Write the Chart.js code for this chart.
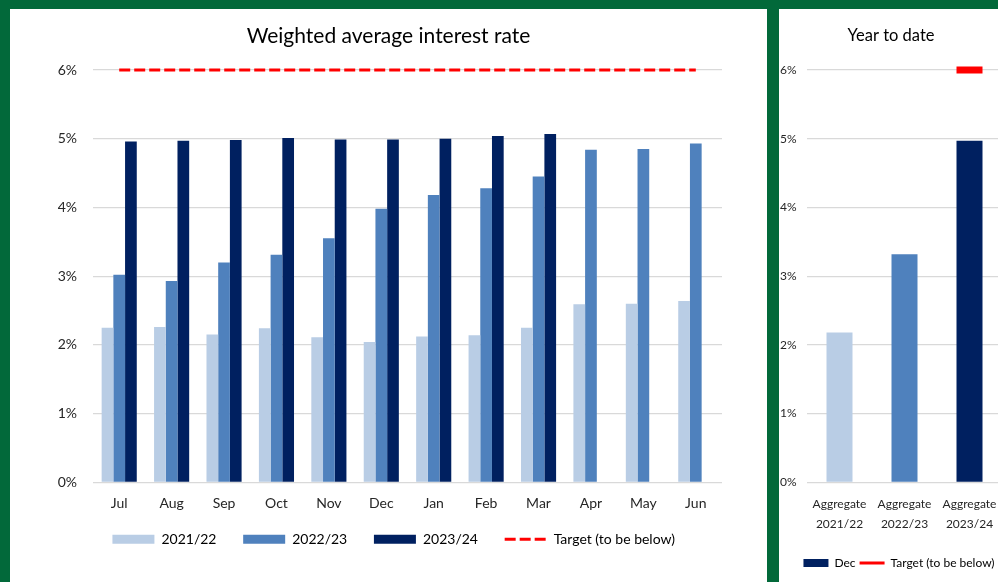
<!DOCTYPE html>
<html>
<head>
<meta charset="utf-8">
<script src="https://cdn.jsdelivr.net/npm/chart.js@4.4.1/dist/chart.umd.min.js"></script>
<style>
  html, body { margin: 0; padding: 0; }
  body { width: 998px; height: 582px; background: #02693a; position: relative; overflow: hidden; }
  .panel { position: absolute; top: 9px; height: 573px; background: #fff; }
  #main { left: 10px; width: 757px; }
  #ytd { left: 779px; width: 227px; }
</style>
</head>
<body>
<div class="panel" id="main"><canvas id="rateChart"></canvas></div>
<div class="panel" id="ytd"><canvas id="ytdChart"></canvas></div>
<script>
// monthly weighted average rate, % per financial year
const months = ['Jul', 'Aug', 'Sep', 'Oct', 'Nov', 'Dec', 'Jan', 'Feb', 'Mar', 'Apr', 'May', 'Jun'];
const rate2122 = [2.25, 2.26, 2.15, 2.24, 2.11, 2.04, 2.12, 2.14, 2.25, 2.59, 2.60, 2.64];
const rate2223 = [3.02, 2.93, 3.20, 3.31, 3.55, 3.98, 4.18, 4.28, 4.45, 4.84, 4.85, 4.93];
const rate2324 = [4.96, 4.97, 4.98, 5.01, 4.99, 4.99, 5.00, 5.04, 5.07, null, null, null];
const targetRate = [6, 6, 6, 6, 6, 6, 6, 6, 6, 6, 6, 6];
const yearLabels = ['2021/22', '2022/23', '2023/24'];

// year to date aggregates
const ytdCategories = [['Aggregate', '2021/22'], ['Aggregate', '2022/23'], ['Aggregate', '2023/24']];
const ytdRates = [2.18, 3.32, 4.97];
const ytdTarget = [null, null, 6];

const LIGHT = '#b9cde5';
const MID = '#4f81bd';
const NAVY = '#002060';
const RED = '#ff0000';
const GRID = '#d9d9d9';
const TEXT = '#262626';

// move title / legend after layout
const nudge = {
  id: 'nudge',
  afterLayout(chart, args, opts) {
    const lg = chart.legend, tb = chart.titleBlock;
    if (lg) {
      lg.left += opts.legendX || 0; lg.right += opts.legendX || 0;
      lg.top += opts.legendY || 0; lg.bottom += opts.legendY || 0;
    }
    if (tb && opts.titleX) { tb.left += opts.titleX; tb.right += opts.titleX; }
  }
};

const pct = v => v + '%';

// fixed axis sizes, no extra label padding on the sides
const fixHeight = h => s => { s.height = h; s.paddingLeft = 0; s.paddingRight = 0; };
const fixWidth = w => s => { s.width = w; };

new Chart(document.getElementById('rateChart'), {
  type: 'bar',
  data: {
    labels: months,
    datasets: [
      { label: yearLabels[0], data: rate2122, backgroundColor: LIGHT },
      { label: yearLabels[1], data: rate2223, backgroundColor: MID },
      { label: yearLabels[2], data: rate2324, backgroundColor: NAVY },
      {
        type: 'line', label: 'Target (to be below)', data: targetRate,
        borderColor: RED, borderWidth: 3, borderDash: [11, 4], pointRadius: 0, clip: false
      }
    ]
  },
  options: {
    responsive: true,
    maintainAspectRatio: false,
    animation: false,
    layout: { autoPadding: false, padding: { left: 0, right: 45, top: 0, bottom: 17 } },
    datasets: { bar: { categoryPercentage: 0.67, barPercentage: 1 } },
    plugins: {
      nudge: { titleX: 22.5, legendX: 27.7, legendY: -8.7 },
      tooltip: { enabled: false },
      title: {
        display: true,
        text: 'Weighted average interest rate',
        color: '#000',
        font: { family: 'Lato', size: 21, weight: 'normal' },
        padding: { top: 14.4, bottom: 21.4 }
      },
      legend: {
        position: 'bottom',
        labels: {
          usePointStyle: true,
          pointStyleWidth: 42,
          boxHeight: 9,
          padding: 26.7,
          color: TEXT,
          font: { family: 'Lato', size: 14 },
          generateLabels: chart => chart.data.datasets.map((ds, i) => ds.type === 'line'
            ? { text: ds.label, strokeStyle: ds.borderColor, fillStyle: 'rgba(0,0,0,0)', lineWidth: 3, lineDash: ds.borderDash, pointStyle: 'line', datasetIndex: i }
            : { text: ds.label, fillStyle: ds.backgroundColor, strokeStyle: ds.backgroundColor, lineWidth: 0, pointStyle: 'rect', datasetIndex: i })
        }
      }
    },
    scales: {
      x: {
        grid: { display: false, drawTicks: false },
        border: { display: false },
        ticks: { padding: 13, maxRotation: 0, color: TEXT, font: { family: 'Lato', size: 14 } },
        afterFit: fixHeight(32)
      },
      y: {
        min: 0,
        max: 6,
        grid: { color: GRID, lineWidth: 1.3, drawTicks: false },
        border: { display: false },
        ticks: { stepSize: 1, padding: 16, callback: pct, color: TEXT, font: { family: 'Lato', size: 14 } },
        afterFit: fixWidth(83)
      }
    }
  },
  plugins: [nudge]
});

new Chart(document.getElementById('ytdChart'), {
  type: 'bar',
  data: {
    labels: ytdCategories,
    datasets: [
      { label: 'Dec', data: ytdRates, backgroundColor: [LIGHT, MID, NAVY] },
      {
        type: 'line', label: 'Target (to be below)', data: ytdTarget, showLine: false,
        borderColor: RED, backgroundColor: RED, pointStyle: 'line', pointRadius: 13, pointBorderWidth: 7, clip: false
      }
    ]
  },
  options: {
    responsive: true,
    maintainAspectRatio: false,
    animation: false,
    layout: { autoPadding: false, padding: { left: 1, right: 4, top: 0, bottom: 3 } },
    datasets: { bar: { categoryPercentage: 0.4, barPercentage: 1 } },
    plugins: {
      nudge: { legendX: 8 },
      tooltip: { enabled: false },
      title: {
        display: true,
        text: 'Year to date',
        color: '#000',
        font: { family: 'Lato', size: 16.5, weight: 'normal' },
        padding: { top: 17.1, bottom: 24.1 }
      },
      legend: {
        position: 'bottom',
        labels: {
          usePointStyle: true,
          pointStyleWidth: 25,
          boxHeight: 8,
          padding: 4,
          color: TEXT,
          font: { family: 'Lato', size: 12 },
          generateLabels: () => [
            { text: 'Dec', fillStyle: NAVY, strokeStyle: NAVY, lineWidth: 0, pointStyle: 'rect', datasetIndex: 0 },
            { text: 'Target (to be below)', fillStyle: 'rgba(0,0,0,0)', strokeStyle: RED, lineWidth: 3, pointStyle: 'line', datasetIndex: 1 }
          ]
        }
      }
    },
    scales: {
      x: {
        grid: { display: false, drawTicks: false },
        border: { display: false },
        ticks: { padding: 11.7, maxRotation: 0, minRotation: 0, autoSkip: false, color: TEXT, font: { family: 'Lato', size: 12, lineHeight: 1.667 } },
        afterFit: fixHeight(70.7)
      },
      y: {
        min: 0,
        max: 6,
        grid: { color: GRID, lineWidth: 1.3, drawTicks: false },
        border: { display: false },
        ticks: { stepSize: 1, crossAlign: 'far', callback: pct, color: TEXT, font: { family: 'Lato', size: 12 } },
        afterFit: fixWidth(27)
      }
    }
  },
  plugins: [nudge]
});
</script>
</body>
</html>
